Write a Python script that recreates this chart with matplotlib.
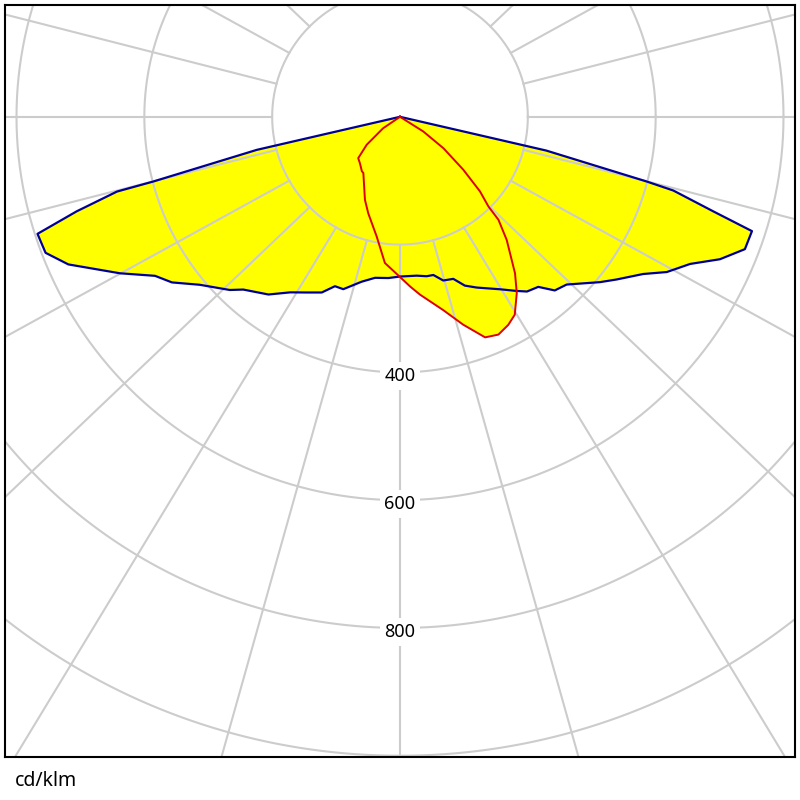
import numpy as np
import matplotlib.pyplot as plt

# polar intensity diagram, intensities in cd/klm, gamma in degrees from nadir
# C0 / C180 plane (blue)
c0_gamma = [0, 6.0, 9.5, 11.9, 14.8, 18.2, 21.0, 24.2, 30.1, 33.8, 36.0, 39.1, 41.7, 44.8,
            50.4, 53.1, 57.1, 59.8, 63.1, 66.0, 69.0, 72.0, 73.2, 74.9, 75.3, 77.0, 90]
c0_cd = [250, 250, 253, 253, 265, 267, 283, 293, 312, 328, 338, 343, 364, 370,
         406, 424, 453, 483, 509, 548, 578, 579, 512, 443, 399, 235, 0]
c180_gamma = [0, 4.1, 8.8, 13.1, 18.2, 21.0, 24.0, 28.2, 32.0, 36.5, 42.2, 44.5, 50.0,
              54.0, 57.0, 60.8, 66.0, 69.0, 72.1, 73.7, 75.2, 75.3, 77.0, 90]
c180_cd = [250, 253, 255, 265, 284, 284, 301, 312, 324, 346, 365, 380, 409,
           441, 457, 502, 568, 594, 596, 527, 458, 399, 230, 0]

# C90 / C270 plane (red)
c90_gamma = [3.4, 6.4, 12.6, 16.9, 21.1, 24.3, 27.5, 30.1, 33.5, 36.3, 40.9, 43.7, 44.6,
             47.0, 50.1, 54.1, 57.8, 90]
c90_cd = [266, 280, 310, 340, 370, 374, 367, 358, 331, 304, 255, 223, 197,
          171, 129, 84, 43, 0]
c270_gamma = [1.2, 5.9, 11.0, 18.2, 22.9, 33.1, 35.0, 40.8, 45.3, 50.0, 55.9, 90]
c270_cd = [246, 230, 191, 159, 141, 105, 104, 96, 92, 68, 32, 0]

rings = [200, 400, 600, 800, 1000, 1200]
ring_labels = [400, 600, 800]
spoke_step = 15


def to_xy(gamma, cd):
    """turn gamma (deg, signed, right side positive) and intensity into x, y"""
    g = np.radians(np.asarray(gamma, dtype=float))
    cd = np.asarray(cd, dtype=float)
    return cd * np.sin(g), -cd * np.cos(g)


def plane(right_g, right_cd, left_g, left_cd):
    # left half runs from the top down to nadir, then the right half back up
    g = [-v for v in left_g[::-1]] + list(right_g)
    cd = list(left_cd[::-1]) + list(right_cd)
    return to_xy(g, cd)


fig = plt.figure(figsize=(8, 8), dpi=100)
ax = fig.add_axes([5/800, 43/800, 790/800, 752/800])
ax.set_xlim(-618, 618)
ax.set_ylim(-1002, 175)

bx, by = plane(c0_gamma, c0_cd, c180_gamma, c180_cd)
rx, ry = plane(c90_gamma, c90_cd, c270_gamma, c270_cd)

ax.fill(bx, by, color="#ffff00", zorder=1, lw=0)
ax.fill(rx, ry, color="#ffff00", zorder=1, lw=0)

# grid: rings and spokes (spokes start at the first ring and fan out a bit wider)
t = np.linspace(0, 2*np.pi, 721)
for r in rings:
    ax.plot(r*np.cos(t), r*np.sin(t), color="#cccccc", lw=1.5, zorder=2)
for a in range(0, 360, spoke_step):
    x0, y0 = to_xy(a, rings[0])
    g = np.radians(a)
    ax.plot([x0, x0 + 1300*1.05*np.sin(g)], [y0, y0 - 1300*np.cos(g)],
            color="#cccccc", lw=1.5, zorder=2)

for v in ring_labels:
    ax.text(0, -v - 14, str(v), ha="center", va="baseline", fontsize=13, family="Noto Sans",
            zorder=3, bbox=dict(facecolor="white", edgecolor="none", pad=3.5))

ax.plot(bx, by, color="#000099", lw=1.6, zorder=4)
ax.plot(rx, ry, color="#dd0000", lw=1.4, zorder=5)

ax.set_xticks([])
ax.set_yticks([])
for s in ax.spines.values():
    s.set_linewidth(1.5)
    s.set_color("black")

fig.text(15/800, 1 - 781/800, "cd/klm", ha="left", va="center", fontsize=14,
         family="Noto Sans")

fig.savefig("out.png", dpi=100, facecolor="white")
